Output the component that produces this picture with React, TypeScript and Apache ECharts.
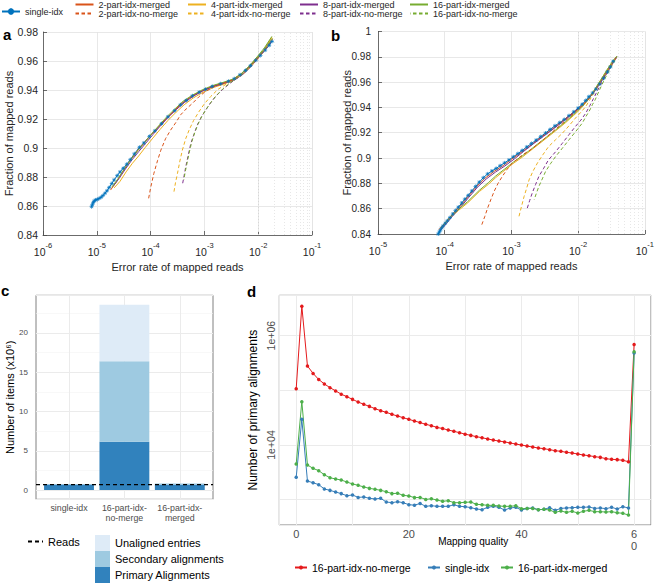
import React, { useEffect, useRef } from 'react';
import * as echarts from 'echarts';

const FONT = '"Liberation Sans", Arial, Helvetica, sans-serif';

// ---------- Panel a : fraction of mapped reads vs error rate ----------
const A_SINGLE = [[8.0e-6,0.8595],[8.3e-6,0.861],[8.6e-6,0.8625],[9.0e-6,0.8635],[9.5e-6,0.8642],[1.02e-5,0.8645],[1.1e-5,0.8652],[1.2e-5,0.866],[1.3e-5,0.8672],[1.42e-5,0.8688],[1.55e-5,0.8705],[1.7e-5,0.8728],[1.9e-5,0.8755],[2.1e-5,0.878],[2.4e-5,0.881],[2.7e-5,0.8835],[3.1e-5,0.886],[3.6e-5,0.8888],[4.2e-5,0.892],[5.0e-5,0.896],[6.2e-5,0.9005],[7.5e-5,0.9035],[9.5e-5,0.908],[1.2e-4,0.9118],[1.6e-4,0.9168],[2.1e-4,0.9215],[2.8e-4,0.9258],[3.6e-4,0.9298],[4.6e-4,0.9328],[6.0e-4,0.936],[8.0e-4,0.9385],[1.05e-3,0.9405],[1.4e-3,0.9425],[2.0e-3,0.9443],[2.8e-3,0.946],[3.6e-3,0.9478],[4.6e-3,0.9505],[5.8e-3,0.9535],[7.2e-3,0.9568],[9.0e-3,0.9605],[1.1e-2,0.9638],[1.35e-2,0.9675],[1.6e-2,0.9708],[1.8e-2,0.9735]];
const A_M2 = [[1.8e-5,0.871],[2.3e-5,0.8765],[3.0e-5,0.8835],[4.0e-5,0.8905],[5.5e-5,0.8975],[7.5e-5,0.9035],[1.0e-4,0.9088],[1.4e-4,0.9145],[2.0e-4,0.9205],[2.8e-4,0.926],[4.0e-4,0.9315],[6.0e-4,0.936],[9.0e-4,0.9395],[1.4e-3,0.9425],[2.2e-3,0.9448],[3.4e-3,0.9472],[4.8e-3,0.951],[6.5e-3,0.9555],[9.0e-3,0.9612],[1.25e-2,0.9672],[1.75e-2,0.9755]];
const A_M4 = [[2.1e-5,0.8725],[2.7e-5,0.877],[3.5e-5,0.8835],[4.6e-5,0.8895],[6.0e-5,0.8945],[8.0e-5,0.9005],[1.1e-4,0.9068],[1.5e-4,0.9128],[2.1e-4,0.919],[3.0e-4,0.9248],[4.2e-4,0.9298],[6.2e-4,0.9345],[9.5e-4,0.9385],[1.5e-3,0.9418],[2.4e-3,0.9443],[3.6e-3,0.947],[5.0e-3,0.9505],[7.0e-3,0.9555],[9.5e-3,0.961],[1.3e-2,0.9675],[1.8e-2,0.9765]];
const A_M8 = [[2.0e-5,0.8735],[2.6e-5,0.879],[3.4e-5,0.8855],[4.5e-5,0.8918],[6.0e-5,0.8975],[8.0e-5,0.903],[1.1e-4,0.9092],[1.5e-4,0.915],[2.1e-4,0.921],[3.0e-4,0.9265],[4.3e-4,0.9315],[6.3e-4,0.9358],[9.5e-4,0.9395],[1.5e-3,0.9425],[2.4e-3,0.9448],[3.7e-3,0.9472],[5.2e-3,0.9508],[7.2e-3,0.9558],[1.0e-2,0.962],[1.4e-2,0.9685],[1.85e-2,0.975]];
const A_M16 = [[1.9e-5,0.873],[2.5e-5,0.879],[3.3e-5,0.886],[4.4e-5,0.8925],[5.8e-5,0.8982],[7.8e-5,0.9038],[1.05e-4,0.9098],[1.45e-4,0.9158],[2.0e-4,0.9215],[2.8e-4,0.9268],[4.0e-4,0.9322],[6.0e-4,0.9365],[9.0e-4,0.94],[1.4e-3,0.943],[2.2e-3,0.9452],[3.4e-3,0.9475],[4.8e-3,0.9512],[6.8e-3,0.9565],[9.5e-3,0.9628],[1.3e-2,0.969],[1.8e-2,0.977]];
const A_N2 = [[9.2e-5,0.8653],[1.0e-4,0.8725],[1.15e-4,0.8825],[1.35e-4,0.8915],[1.55e-4,0.8985],[1.9e-4,0.9065],[2.36e-4,0.9124],[3.0e-4,0.918],[3.6e-4,0.9228],[4.6e-4,0.927],[6.0e-4,0.9308],[8.0e-4,0.9355],[1.05e-3,0.939],[1.5e-3,0.9422],[2.3e-3,0.9447],[3.5e-3,0.9472],[5.0e-3,0.951],[7.0e-3,0.956],[9.8e-3,0.962],[1.35e-2,0.968],[1.8e-2,0.9745]];
const A_N4 = [[2.72e-4,0.8699],[2.9e-4,0.876],[3.16e-4,0.8825],[3.5e-4,0.891],[3.9e-4,0.8986],[4.5e-4,0.9065],[5.2e-4,0.9124],[6.3e-4,0.919],[7.9e-4,0.925],[1.0e-3,0.9305],[1.3e-3,0.9354],[1.8e-3,0.9405],[2.7e-3,0.9446],[3.7e-3,0.9472],[5.2e-3,0.9508],[7.2e-3,0.956],[1.0e-2,0.962],[1.4e-2,0.9685],[1.85e-2,0.9755]];
const A_N8 = [[3.95e-4,0.8757],[4.2e-4,0.881],[4.5e-4,0.887],[5.0e-4,0.895],[5.6e-4,0.9032],[6.4e-4,0.9095],[7.4e-4,0.9159],[8.8e-4,0.9215],[1.06e-3,0.9262],[1.3e-3,0.931],[1.6e-3,0.9354],[2.2e-3,0.9405],[3.1e-3,0.945],[4.2e-3,0.9485],[5.6e-3,0.952],[7.5e-3,0.957],[1.0e-2,0.9625],[1.4e-2,0.969],[1.8e-2,0.974]];
const A_N16 = [[4.15e-4,0.878],[4.4e-4,0.8835],[4.75e-4,0.8895],[5.2e-4,0.8965],[5.8e-4,0.904],[6.6e-4,0.9105],[7.6e-4,0.9165],[9.0e-4,0.922],[1.08e-3,0.9268],[1.32e-3,0.9315],[1.65e-3,0.936],[2.2e-3,0.9408],[3.0e-3,0.945],[4.1e-3,0.9485],[5.5e-3,0.952],[7.4e-3,0.957],[1.0e-2,0.9628],[1.4e-2,0.9695],[1.85e-2,0.9755]];

// ---------- Panel b ----------
const B_SINGLE = [[8.0e-5,0.84],[8.3e-5,0.8415],[8.6e-5,0.843],[9.0e-5,0.8448],[9.5e-5,0.8465],[1.02e-4,0.8485],[1.1e-4,0.8505],[1.2e-4,0.853],[1.32e-4,0.8558],[1.45e-4,0.8585],[1.6e-4,0.8612],[1.8e-4,0.8645],[2.0e-4,0.8675],[2.25e-4,0.8705],[2.55e-4,0.874],[2.9e-4,0.8775],[3.3e-4,0.881],[3.8e-4,0.8845],[4.4e-4,0.8875],[5.1e-4,0.8898],[5.9e-4,0.8918],[6.8e-4,0.894],[7.9e-4,0.8962],[9.2e-4,0.8985],[1.07e-3,0.901],[1.25e-3,0.9035],[1.45e-3,0.906],[1.7e-3,0.9088],[2.0e-3,0.9115],[2.35e-3,0.9142],[2.75e-3,0.917],[3.25e-3,0.9198],[3.8e-3,0.9226],[4.5e-3,0.9255],[5.3e-3,0.928],[6.2e-3,0.9305],[7.3e-3,0.9335],[8.6e-3,0.9365],[1.0e-2,0.9395],[1.15e-2,0.9425],[1.3e-2,0.9455],[1.45e-2,0.9485],[1.65e-2,0.9515],[1.85e-2,0.9545],[2.1e-2,0.9585],[2.4e-2,0.963],[2.75e-2,0.968],[3.05e-2,0.972],[3.35e-2,0.9765]];
const B_M2 = [[8.2e-5,0.8435],[1.0e-4,0.8485],[1.3e-4,0.8555],[1.7e-4,0.862],[2.2e-4,0.869],[3.0e-4,0.8775],[4.0e-4,0.884],[5.5e-4,0.8895],[7.5e-4,0.894],[1.0e-3,0.899],[1.4e-3,0.9045],[2.0e-3,0.9105],[2.8e-3,0.9165],[4.0e-3,0.9225],[5.6e-3,0.9285],[7.8e-3,0.9345],[1.05e-2,0.9395],[1.4e-2,0.946],[1.7e-2,0.952],[2.1e-2,0.9595],[2.6e-2,0.967],[3.2e-2,0.9745],[3.8e-2,0.98]];
const B_M8 = [[8.5e-5,0.8425],[1.05e-4,0.848],[1.35e-4,0.855],[1.75e-4,0.8615],[2.3e-4,0.869],[3.1e-4,0.877],[4.2e-4,0.8835],[5.8e-4,0.889],[8.0e-4,0.8938],[1.1e-3,0.8992],[1.5e-3,0.905],[2.1e-3,0.911],[3.0e-3,0.917],[4.2e-3,0.9228],[5.9e-3,0.9288],[8.2e-3,0.935],[1.1e-2,0.9405],[1.45e-2,0.947],[1.8e-2,0.9535],[2.2e-2,0.9605],[2.7e-2,0.968],[3.3e-2,0.975],[3.8e-2,0.98]];
const B_M4 = [[9.0e-5,0.8445],[1.05e-4,0.849],[1.25e-4,0.8535],[1.6e-4,0.8585],[2.2e-4,0.8645],[3.3e-4,0.8735],[4.5e-4,0.8792],[5.8e-4,0.8845],[8.0e-4,0.8905],[1.05e-3,0.8955],[1.46e-3,0.9008],[2.0e-3,0.9065],[3.25e-3,0.9152],[4.6e-3,0.9215],[6.5e-3,0.928],[8.5e-3,0.9335],[1.05e-2,0.938],[1.3e-2,0.9435],[1.55e-2,0.949],[1.8e-2,0.9545],[2.2e-2,0.962],[2.7e-2,0.9695],[3.2e-2,0.9755],[3.7e-2,0.98]];
const B_M16 = [[8.8e-5,0.8442],[1.05e-4,0.8495],[1.25e-4,0.8542],[1.6e-4,0.8595],[2.2e-4,0.8655],[3.3e-4,0.8745],[4.5e-4,0.8805],[5.8e-4,0.8858],[8.0e-4,0.8915],[1.05e-3,0.8965],[1.46e-3,0.9018],[2.0e-3,0.9072],[3.25e-3,0.916],[4.6e-3,0.9222],[6.5e-3,0.9288],[8.5e-3,0.9342],[1.05e-2,0.9388],[1.3e-2,0.9442],[1.55e-2,0.9495],[1.8e-2,0.9548],[2.2e-2,0.962],[2.7e-2,0.9695],[3.2e-2,0.9755],[3.8e-2,0.9805]];
const B_N2 = [[3.6e-4,0.8474],[4.0e-4,0.854],[4.4e-4,0.8605],[4.9e-4,0.867],[5.5e-4,0.8736],[6.3e-4,0.88],[7.3e-4,0.8855],[8.6e-4,0.891],[1.03e-3,0.896],[1.25e-3,0.8995],[1.46e-3,0.9025],[2.0e-3,0.907],[3.25e-3,0.916],[5.0e-3,0.9245],[7.5e-3,0.9325],[1.05e-2,0.9395],[1.4e-2,0.946],[1.8e-2,0.9535],[2.3e-2,0.962],[2.9e-2,0.9705],[3.8e-2,0.98]];
const B_N4 = [[1.3e-3,0.854],[1.42e-3,0.862],[1.55e-3,0.8697],[1.7e-3,0.8765],[1.84e-3,0.8828],[2.1e-3,0.8895],[2.45e-3,0.896],[2.95e-3,0.9025],[3.6e-3,0.909],[4.6e-3,0.9145],[5.8e-3,0.9196],[7.3e-3,0.9255],[9.1e-3,0.9315],[1.1e-2,0.9362],[1.3e-2,0.9407],[1.6e-2,0.9485],[2.0e-2,0.9565],[2.5e-2,0.9645],[3.1e-2,0.9725],[3.8e-2,0.98]];
const B_N8 = [[1.73e-3,0.8605],[1.88e-3,0.8665],[2.05e-3,0.8723],[2.3e-3,0.879],[2.58e-3,0.8855],[3.05e-3,0.892],[3.6e-3,0.8986],[4.6e-3,0.905],[5.8e-3,0.9117],[7.3e-3,0.9185],[9.1e-3,0.9249],[1.1e-2,0.93],[1.3e-2,0.9354],[1.5e-2,0.9415],[1.7e-2,0.947],[2.05e-2,0.9555],[2.5e-2,0.964],[3.1e-2,0.9725],[3.8e-2,0.98]];
const B_N16 = [[2.19e-3,0.867],[2.38e-3,0.8725],[2.58e-3,0.8776],[2.9e-3,0.8835],[3.25e-3,0.8894],[3.85e-3,0.8955],[4.6e-3,0.9012],[5.8e-3,0.9078],[7.3e-3,0.9144],[9.2e-3,0.921],[1.15e-2,0.9275],[1.3e-2,0.9325],[1.5e-2,0.938],[1.65e-2,0.9425],[1.8e-2,0.946],[2.1e-2,0.954],[2.5e-2,0.9625],[3.1e-2,0.9715],[3.8e-2,0.98]];

// ---------- Panel c : stacked bars (x10^6 items) ----------
const C_CATS = ['single-idx', '16-part-idx-\nno-merge', '16-part-idx-\nmerged'];
const C_POS = [1, 2, 3];
const C_PRIMARY = [0.72, 6.15, 0.72];
const C_SECONDARY = [0.03, 10.25, 0.1];
const C_UNALIGNED = [0, 7.2, 0];
const C_READS = 0.7;
const C_Y_TICKS = [0, 5, 10, 15, 20];
const C_Y_MINOR = [2.5, 7.5, 12.5, 17.5, 22.5];

// ---------- Panel d : primary alignments per mapping quality ----------
const D_MAPQ = Array.from({ length: 61 }, (_, i) => i);
const D_NO_MERGE = [107000,3470000,279000,204000,158000,131000,112000,97700,85100,76600,68400,61200,55500,50900,46200,42500,39600,36400,33900,31600,29500,27500,25700,23900,22600,21000,20000,18800,17800,16800,15800,15000,14200,13600,12900,12300,11800,11400,10900,10400,10000,9550,9180,8810,8570,8220,7870,7660,7350,7140,6840,6560,6380,6120,5940,5620,5470,5400,5250,4950,692000];
const D_SINGLE = [2560,29500,2190,2040,1880,1570,1480,1380,1290,1180,1220,1100,1120,1060,1030,1060,906,881,918,881,809,794,851,755,776,755,755,755,809,755,745,714,676,656,724,755,724,646,705,724,646,692,705,656,665,714,638,692,705,714,724,724,735,692,705,684,724,676,745,705,480000];
const D_MERGED = [4490,62100,4310,3740,3390,2860,2520,2390,2290,2100,1940,1830,1710,1610,1550,1480,1400,1290,1310,1200,1170,1090,1100,1010,1040,986,933,959,881,881,893,906,822,809,787,787,766,755,755,776,684,692,692,656,665,647,586,621,586,612,570,612,638,603,603,594,603,578,562,525,509000];

const MC = { blue: '#0072BD', orange: '#D95319', yellow: '#EDB120', purple: '#7E2F8E', green: '#77AC30' };
const STAR = 'path://M5,0L5,10M0,5L10,5M1.6,1.6L8.4,8.4M1.6,8.4L8.4,1.6';

function minorLog(e0: number, e1: number) {
  const out: number[] = [];
  for (let e = e0; e < e1; e++) for (let k = 2; k <= 9; k++) out.push(k * Math.pow(10, e));
  return out;
}

function mline(name: string, data: number[][], color: string, dashed: boolean, idx: number, star = false, offset = 0): any {
  return {
    type: 'line', name, data, xAxisIndex: idx, yAxisIndex: idx,
    showSymbol: star, symbol: star ? STAR : 'none', symbolSize: 4,
    itemStyle: star ? { color: 'rgba(0,0,0,0)', borderColor: color, borderWidth: 0.7 } : { color },
    lineStyle: { color, width: 1, type: dashed ? [3.5, 2.5] : 'solid', dashOffset: offset },
    silent: true,
  };
}

function panelSeries(idx: number, s: any) {
  return [
    {
      type: 'line', name: 'grid' + idx, data: [], xAxisIndex: idx, yAxisIndex: idx, silent: true, z: 1,
      markLine: {
        silent: true, symbol: 'none', label: { show: false }, z: 1,
        lineStyle: { color: '#d6d6d6', width: 0.6, type: [1, 2] },
        data: minorLog(idx === 0 ? -6 : -5, -1).map((v) => ({ xAxis: v })),
      },
    },
    mline('single-idx', s.single, MC.blue, false, idx, true),
    mline('2-part-idx-merged', s.m2, MC.orange, false, idx),
    mline('4-part-idx-merged', s.m4, MC.yellow, false, idx),
    mline('8-part-idx-merged', s.m8, MC.purple, false, idx),
    mline('16-part-idx-merged', s.m16, MC.green, false, idx),
    mline('2-part-idx-no-merge', s.n2, MC.orange, true, idx),
    mline('4-part-idx-no-merge', s.n4, MC.yellow, true, idx),
    mline('8-part-idx-no-merge', s.n8, MC.purple, true, idx),
    mline('16-part-idx-no-merge', s.n16, MC.green, true, idx, false, 3),
  ];
}

function logXAxis(idx: number, min: number, max: number): any {
  return {
    type: 'log', logBase: 10, gridIndex: idx, min, max,
    axisLine: { show: true, onZero: false, lineStyle: { color: '#4a4a4a', width: 0.8 } },
    axisTick: { show: true, inside: true, length: 4, lineStyle: { color: '#4a4a4a', width: 0.8 } },
    splitLine: { show: true, lineStyle: { color: '#e2e2e2', width: 0.8 } },
    axisLabel: {
      margin: 6, color: '#262626',
      formatter: (v: number) => `{b|10}{s|${Math.round(Math.log10(v))}}`,
      rich: {
        b: { fontSize: 10.5, fontFamily: FONT, color: '#262626', lineHeight: 16, verticalAlign: 'bottom' },
        s: { fontSize: 7.5, fontFamily: FONT, color: '#262626', lineHeight: 16, verticalAlign: 'top' },
      },
    },
    name: 'Error rate of mapped reads', nameLocation: 'middle', nameGap: 26, nameMoveOverlap: false,
    nameTextStyle: { fontSize: 11, color: '#262626', fontFamily: FONT },
  };
}

function fracYAxis(idx: number, max: number, gap: number, fs: number, margin: number): any {
  return {
    type: 'value', gridIndex: idx, min: 0.84, max, interval: 0.02,
    axisLine: { show: true, onZero: false, lineStyle: { color: '#4a4a4a', width: 0.8 } },
    axisTick: { show: true, inside: true, length: 4, lineStyle: { color: '#4a4a4a', width: 0.8 } },
    splitLine: { show: true, lineStyle: { color: '#e2e2e2', width: 0.8 } },
    axisLabel: { fontSize: fs, color: '#262626', margin, fontFamily: FONT },
    name: 'Fraction of mapped reads', nameLocation: 'middle', nameGap: gap, nameRotate: 90, nameMoveOverlap: false,
    nameTextStyle: { fontSize: 11, color: '#262626', fontFamily: FONT },
  };
}

const topLegendBase = {
  orient: 'vertical', padding: 0, itemGap: 0, itemWidth: 18, itemHeight: 8, selectedMode: false,
  itemStyle: { opacity: 0 },
  textStyle: { fontSize: 9, color: '#262626', fontFamily: FONT },
};

export default function App() {
  const ref = useRef<HTMLDivElement>(null);
  useEffect(() => {
    if (!ref.current) return;
    const chart = echarts.init(ref.current, undefined, { renderer: 'svg' });
    const pairs = (ys: number[]) => ys.map((v, i) => [D_MAPQ[i], v]);
    const C_TOP = 295.3, C_H = 204, C_YMIN = -1.18, C_YMAX = 24.8;
    const option: any = {
      animation: false,
      textStyle: { fontFamily: FONT },
      grid: [
        { left: 43, top: 32, width: 269, height: 203 },
        { left: 378, top: 31.5, width: 269, height: 202.5 },
        { left: 41.3, top: C_TOP, width: 166.2, height: C_H },
        { left: 279.3, top: 295.3, width: 371.7, height: 229.7, show: true, borderColor: '#808080', borderWidth: 1, backgroundColor: 'transparent' },
        { left: 36, top: C_TOP, width: 177, height: C_H, show: true, borderColor: '#808080', borderWidth: 1, backgroundColor: 'transparent' },
      ],
      xAxis: [
        logXAxis(0, 1e-6, 1e-1),
        logXAxis(1, 1e-5, 1e-1),
        {
          type: 'category', gridIndex: 2, data: C_CATS, boundaryGap: true,
          axisLine: { show: false }, axisTick: { show: false }, splitLine: { show: false },
          axisLabel: { interval: 0, margin: 4, fontSize: 8.8, lineHeight: 10, color: '#4d4d4d', fontFamily: FONT },
        },
        {
          type: 'value', gridIndex: 3, min: -3, max: 63, splitNumber: 7,
          axisLine: { show: false }, axisTick: { show: false },
          splitLine: { show: true, lineStyle: { color: '#ebebeb', width: 1 } },
          axisLabel: {
            showMinLabel: false, showMaxLabel: false, margin: 3, fontSize: 11, lineHeight: 12, color: '#4d4d4d', fontFamily: FONT,
            formatter: (v: number) => (v === 60 ? '6\n0' : v % 20 === 0 ? String(v) : ''),
          },
          name: 'Mapping quality', nameLocation: 'middle', nameGap: 11, nameMoveOverlap: false,
          nameTextStyle: { fontSize: 10, color: '#000', fontFamily: FONT, padding: [0, 0, 0, 16] },
        },
        { type: 'value', gridIndex: 4, min: 0.4, max: 3.6, show: false },
      ],
      yAxis: [
        fracYAxis(0, 0.98, 28.5, 10.5, 5),
        fracYAxis(1, 1, 26, 10, 7),
        { type: 'value', gridIndex: 2, min: C_YMIN, max: C_YMAX, show: false },
        {
          type: 'log', logBase: 10, gridIndex: 3, min: 344, max: 5.48e6,
          axisLine: { show: false }, axisTick: { show: false },
          splitLine: { show: true, lineStyle: { color: '#ebebeb', width: 1 } },
          axisLabel: {
            rotate: 90, fontSize: 10.5, color: '#4d4d4d', margin: 3, fontFamily: FONT,
            formatter: (v: number) => {
              const e = Math.log10(v);
              if (Math.abs(e - 4) < 0.01) return '1e+04';
              if (Math.abs(e - 6) < 0.01) return '1e+06';
              return '';
            },
          },
          name: 'Number of primary alignments', nameLocation: 'middle', nameGap: 20, nameRotate: 90, nameMoveOverlap: false,
          nameTextStyle: { fontSize: 12, color: '#000', fontFamily: FONT },
        },
        {
          type: 'value', gridIndex: 4, min: C_YMIN, max: C_YMAX,
          axisLine: { show: false }, axisTick: { show: false },
          splitLine: { show: true, lineStyle: { color: '#ebebeb', width: 1 } },
          axisLabel: {
            showMinLabel: false, showMaxLabel: false, fontSize: 8, color: '#4d4d4d', margin: 8, fontFamily: FONT,
            formatter: (v: number) => (C_Y_TICKS.includes(v) ? String(v) : ''),
          },
          name: 'Number of items (x10⁶)', nameLocation: 'middle', nameGap: 21, nameRotate: 90, nameMoveOverlap: false,
          nameTextStyle: { fontSize: 11, color: '#000', fontFamily: FONT },
        },
      ],
      legend: [
        { ...topLegendBase, data: ['single-idx'], left: 1, top: 7, itemStyle: {} },
        { ...topLegendBase, data: ['2-part-idx-merged', '2-part-idx-no-merge'], left: 74.5, top: 0 },
        { ...topLegendBase, data: ['4-part-idx-merged', '4-part-idx-no-merge'], left: 187, top: 0 },
        { ...topLegendBase, data: ['8-part-idx-merged', '8-part-idx-no-merge'], left: 299, top: 0 },
        { ...topLegendBase, data: ['16-part-idx-merged', '16-part-idx-no-merge'], left: 409, top: 0 },
        {
          data: ['Reads'], left: 27, top: 536, padding: 0, itemWidth: 15, itemHeight: 10, selectedMode: false,
          itemStyle: { opacity: 0 },
          textStyle: { fontSize: 11, color: '#000', fontFamily: FONT },
        },
        {
          data: ['Unaligned entries', 'Secondary alignments', 'Primary Alignments'], orient: 'vertical',
          left: 95, top: 535, padding: 0, itemGap: 0, itemWidth: 15, itemHeight: 16, icon: 'rect', selectedMode: false,
          textStyle: { fontSize: 11, color: '#000', fontFamily: FONT },
        },
        ...[['d:16-part-idx-no-merge', 294], ['d:single-idx', 427], ['d:16-part-idx-merged', 500]].map(([n, l]) => ({
          data: [n], left: l, top: 562, padding: 0, itemWidth: 12, itemHeight: 5, selectedMode: false,
          formatter: (name: string) => name.replace('d:', ''),
          textStyle: { fontSize: 10.5, color: '#000', fontFamily: FONT },
        })),
      ],
      graphic: [
        { type: 'text', x: 3, y: 34, style: { text: 'a', font: `bold 15px ${FONT}`, fill: '#000', verticalAlign: 'middle' } },
        { type: 'text', x: 331, y: 35, style: { text: 'b', font: `bold 15px ${FONT}`, fill: '#000', verticalAlign: 'middle' } },
        { type: 'text', x: 1, y: 290, style: { text: 'c', font: `bold 15px ${FONT}`, fill: '#000', verticalAlign: 'middle' } },
        { type: 'text', x: 247, y: 291, style: { text: 'd', font: `bold 15px ${FONT}`, fill: '#000', verticalAlign: 'middle' } },
      ],
      series: [
        ...panelSeries(0, { single: A_SINGLE, m2: A_M2, m4: A_M4, m8: A_M8, m16: A_M16, n2: A_N2, n4: A_N4, n8: A_N8, n16: A_N16 }),
        ...panelSeries(1, { single: B_SINGLE, m2: B_M2, m4: B_M4, m8: B_M8, m16: B_M16, n2: B_N2, n4: B_N4, n8: B_N8, n16: B_N16 }),
        {
          type: 'line', name: 'gridc', data: [], xAxisIndex: 4, yAxisIndex: 4, silent: true, z: 1,
          markLine: {
            silent: true, symbol: 'none', label: { show: false }, z: 1,
            data: [
              ...C_Y_MINOR.map((v) => ({ yAxis: v, lineStyle: { color: '#f3f3f3', width: 0.6, type: 'solid' } })),
              ...C_POS.map((v) => ({ xAxis: v, lineStyle: { color: '#ebebeb', width: 1, type: 'solid' } })),
            ],
          },
        },
        { type: 'bar', name: 'Primary Alignments', stack: 'c', xAxisIndex: 2, yAxisIndex: 2, barWidth: '90%', data: C_PRIMARY, itemStyle: { color: '#3182bd' }, silent: true, z: 3 },
        { type: 'bar', name: 'Secondary alignments', stack: 'c', xAxisIndex: 2, yAxisIndex: 2, barWidth: '90%', data: C_SECONDARY, itemStyle: { color: '#9ecae1' }, silent: true, z: 3 },
        { type: 'bar', name: 'Unaligned entries', stack: 'c', xAxisIndex: 2, yAxisIndex: 2, barWidth: '90%', data: C_UNALIGNED, itemStyle: { color: '#deebf7' }, silent: true, z: 3 },
        {
          type: 'line', name: 'Reads', xAxisIndex: 4, yAxisIndex: 4, data: [[0.4, C_READS], [3.6, C_READS]],
          symbol: 'none', lineStyle: { color: '#000', width: 1.2, type: [4, 3] }, itemStyle: { color: '#000' }, silent: true, z: 5,
        },
        { type: 'line', name: 'd:16-part-idx-no-merge', xAxisIndex: 3, yAxisIndex: 3, data: pairs(D_NO_MERGE), symbol: 'circle', symbolSize: 3.5, showAllSymbol: true, lineStyle: { color: '#e41a1c', width: 1 }, itemStyle: { color: '#e41a1c' }, silent: true },
        { type: 'line', name: 'd:single-idx', xAxisIndex: 3, yAxisIndex: 3, data: pairs(D_SINGLE), symbol: 'circle', symbolSize: 3.5, showAllSymbol: true, lineStyle: { color: '#377eb8', width: 1 }, itemStyle: { color: '#377eb8' }, silent: true },
        { type: 'line', name: 'd:16-part-idx-merged', xAxisIndex: 3, yAxisIndex: 3, data: pairs(D_MERGED), symbol: 'circle', symbolSize: 3.5, showAllSymbol: true, lineStyle: { color: '#4daf4a', width: 1 }, itemStyle: { color: '#4daf4a' }, silent: true },
      ],
    };
    chart.setOption(option);
    return () => chart.dispose();
  }, []);
  return <div ref={ref} style={{ position: 'absolute', left: 0, top: 0, width: 657, height: 585, background: '#fff' }} />;
}
